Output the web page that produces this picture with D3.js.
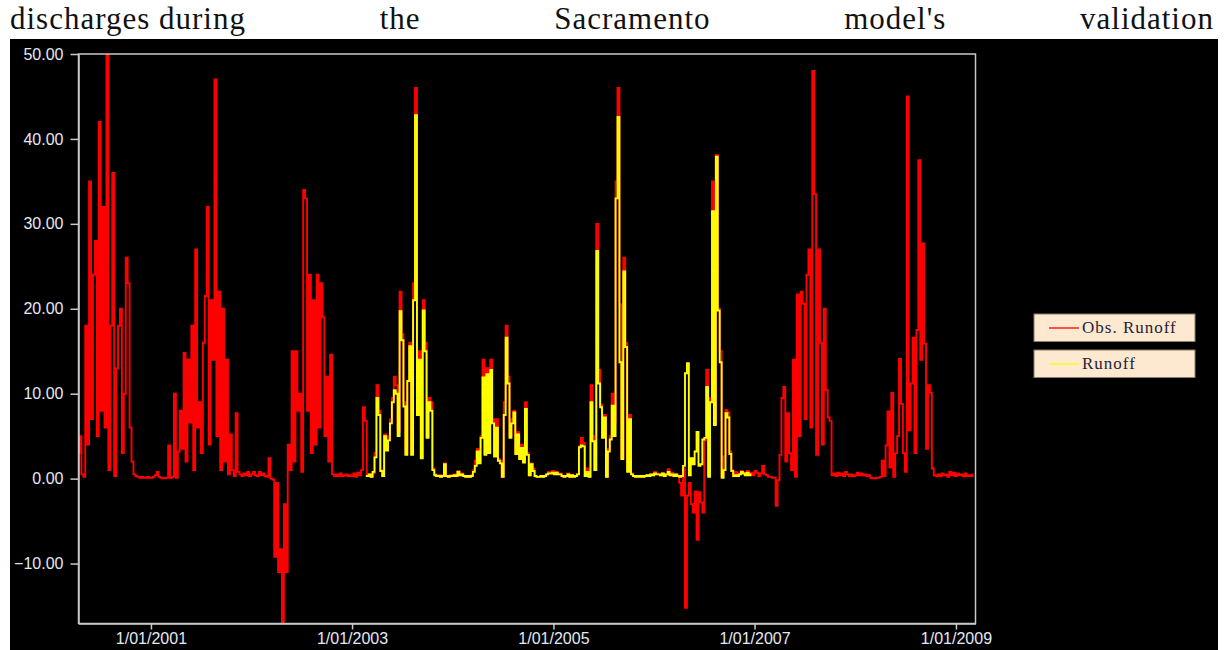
<!DOCTYPE html>
<html><head><meta charset="utf-8">
<script src="https://cdn.jsdelivr.net/npm/d3@7"></script>
<style>html,body{margin:0;padding:0;background:#fff;overflow:hidden}</style>
</head><body>
<svg id="c" width="1226" height="650"></svg>
<script>
const titleWords = ["discharges during", "the", "Sacramento", "model's", "validation"];
const seriesNames = ["Obs. Runoff", "Runoff"];
const yTicks = [-10, 0, 10, 20, 30, 40, 50];
const xTickDates = ["2001-01-01", "2003-01-01", "2005-01-01", "2007-01-01", "2009-01-01"];
const xDomain = ["2000-04-13", "2009-03-13"];
const yDomain = [-17.06, 50];
const obsStart = "2000-04-13";
const runoffStart = "2003-02-20";
const stepDays = 7;

const obsRunoff = [
 3.0,5.0,0.5,0.2,18,4,35,7,24,28, 5,42,8,32,6,50,1,18,36,0.3, 13,18,20,3,10,26,23,6,2,0.5,
 0.3,0.2,0.1,0.2,0.1,0.1,0.2,0.1,0.1,0.2, 0.4,0.8,0.2,0.1,0.05,0.05,0.1,3.9,0.1,0.2,
 10,0.1,3.2,8,3.5,14.8,2,14,6.6,18, 1,27,6,9,3,16,21.5,32,4,21, 14,47,5,22,1,20,2,14,
 0.5,5.2,1.0,0.3,7.7,0.8,0.5,0.3,0.6,0.4, 0.8,0.3,0.5,0.8,0.4,0.3,0.8,0.4,0.6,0.3,
 0.2,2.4,0.0,-0.1,-9.2,-0.5,-11,-8.3,-17,-3, -11,4,1,15,2,15,8,10,0.8,34,
 33,8,24,3,21,4,24,6,23,19, 5,12,2,14.6,0.5,0.3,0.5,0.3,0.6,0.3,
 0.4,0.5,0.3,0.4,0.3,0.6,0.2,0.7,0.4,1.0, 8.4,6.8,0.3,0.5,0.2,0.6,3.0,11,
 8,1.0,0.3,5.2,3.5,5,7,9.5,12,11, 5.5,22,17,9,3,11.5,16,3,23,46,
 8.5,15,2.5,21,16,5,9.5,9,1.2,0.5, 0.3,0.4,0.2,0.4,1.8,0.3,0.2,0.4,0.3,0.5,
 0.3,0.9,0.4,0.6,0.3,0.2,0.3,0.2,0.4,1.0, 2.1,3.5,2,5,14,3,13,3.2,14,7,
 2.8,7,2.3,2.1,0.2,9,18,12,5,7, 8,3,5.5,2.4,4,2,9,3,
 0.4,1.8,1.2,0.3,0.2,0.2,0.3,0.2,0.3,0.5, 0.8,0.7,0.9,0.6,0.8,0.5,0.6,0.3,0.2,0.3,
 0.6,0.2,0.4,0.2,0.3,0.5,3.8,4.8,4.2,0.3, 1.2,0.2,11,5,1.0,30,12.8,8.7,5,7.5,
 0.2,3.5,5,10,6.6,35,46,20.5,2.4,26, 16,1,7.5,0.6,0.3,0.2,0.3,0.2,0.3,0.2,
 0.3,0.4,0.3,0.5,0.4,0.8,0.6,0.5,0.4,0.6, 0.3,0.5,1.1,0.4,0.7,0.3,0.5,
 0.3,-0.5,-2,1.2,-15.2,-2,-0.5,-3,-4,-1.5, -7.2,-1.6,-2.8,-4,4.5,12.8,0.5,9.5,35,6.5,
 38.1,20,15,0.2,2.6,8.1,7.8,3.2,1,0.4, 0.8,0.3,0.6,0.9,0.7,0.5,0.9,0.5,0.7,0.4,
 0.9,0.7,0.3,0.6,1.5,0.5,0.4,0.2,0.2,0.1, 0.1,-3.2,-0.2,2.8,9.5,10.8,2,7.7,3,1,
 14,0.2,21.7,5,22,20.6,7,24,27,6, 48,33.5,2.8,27,16,4,20,10.4,
 7.2,6.8,0.4,0.6,0.3,0.7,0.4,0.6,0.3,0.8, 0.5,0.3,0.5,0.3,0.4,0.7,0.4,0.6,0.4,0.5,
 0.3,0.4,0.1,0.05,0.05,0.1,0.1,0.2,2.1,0.3, 3.9,7.9,1.3,10.1,0.2,3,5,14.1,8.8,3,
 0.8,45,5.7,11.2,16.6,3,17.5,37.5,14,27.7, 15.9,3.5,11,10.1,1.2,0.4,0.3,0.5,0.3,0.6,
 0.4,0.5,0.2,0.8,0.4,0.7,0.3,0.6,0.4,0.5, 0.3,0.6,0.3,0.4,0.3,0.5
];

const runoff = [
 0.3,0.3,0.5,0.2,0.8,2.5,9.5,
 7.5,0.9,0.3,5,3.3,4.5,6.5,9,10.4,10, 5,19.7,16.3,8.5,2.8,11.5,15.6,2.8,21,42.8,
 7.5,14,2.4,19.8,15,4.8,9,8,1,0.4, 0.3,0.3,0.2,0.3,1.7,0.3,0.2,0.3,0.3,0.4,
 0.3,0.8,0.4,0.5,0.3,0.2,0.3,0.2,0.3,0.8, 1.5,3.2,1.8,4.8,11.9,2.8,12.3,3,12.8,6.5,
 2.6,6,2.1,1.8,0.2,7.5,16.6,11.2,4.8,6.5, 7.8,2.9,5.2,2.3,3.6,1.9,8.2,2.8,
 0.4,1.7,0.9,0.3,0.2,0.2,0.3,0.2,0.3,0.5, 0.6,0.6,0.7,0.5,0.7,0.5,0.5,0.3,0.2,0.3,
 0.5,0.2,0.4,0.2,0.3,0.5,3.7,3.9,3.8,0.3, 0.8,0.2,9,4.4,1.0,26.8,11.2,8.4,4.8,7.2,
 0.2,3.2,4.6,8.6,5,33,42.6,13.7,2.3,24.4, 15.5,0.8,7.0,0.5,0.3,0.2,0.3,0.2,0.3,0.2,
 0.3,0.4,0.3,0.5,0.4,0.6,0.5,0.5,0.4,0.6, 0.3,0.5,0.8,0.4,0.5,0.3,0.5,
 0.3,0.2,0.3,1.5,12.4,13.6,0.4,2.4,1.7,3.2, 5.5,1.5,1.7,4.6,4.8,10.8,0.2,9,31.5,6.3,
 37.9,19.8,13.7,0.1,1,7.7,7.2,2.9,0.9,0.3, 0.4,0.3,0.5,0.8,0.6,0.4,0.7,0.4,0.5
];

const seriesColors = ["#ff0000", "#ffff00"];

const parse = d3.utcParse("%Y-%m-%d");
const svg = d3.select("#c");

// black chart background
svg.append("rect").attr("x", 10).attr("y", 39).attr("width", 1208).attr("height", 611).attr("fill", "#000");

// justified title line
const tg = svg.append("g")
  .attr("font-family", "'Liberation Serif','Times New Roman',serif")
  .attr("font-size", 31).attr("letter-spacing", 1).attr("fill", "#111");
const tNodes = titleWords.map(w => tg.append("text").attr("y", 29).text(w));
const tW = tNodes.map(t => t.node().getComputedTextLength());
const tLeft = 10, tRight = 1214;
const gap = (tRight - tLeft - d3.sum(tW)) / (titleWords.length - 1);
let cx = tLeft;
tNodes.forEach((t, i) => { t.attr("x", cx); cx += tW[i] + gap; });

const m = {l: 78.5, r: 975.5, t: 54, b: 623.5};
const x = d3.scaleUtc().domain(xDomain.map(parse)).range([m.l, m.r]);
const y = d3.scaleLinear().domain(yDomain).range([m.b, m.t]);

const axisColor = "#c8c8c8", labelColor = "#e4e9f2";
const fontSans = "'Liberation Sans', Arial, sans-serif";

// plot clip
svg.append("defs").append("clipPath").attr("id", "clip")
  .append("rect").attr("x", m.l).attr("y", m.t).attr("width", m.r - m.l).attr("height", m.b - m.t);

// series
const obsData = obsRunoff.map((v, i) => [d3.utcDay.offset(parse(obsStart), i * stepDays), v]);
const runData = runoff.map((v, i) => [d3.utcDay.offset(parse(runoffStart), i * stepDays), v]);
const line = d3.line().x(d => x(d[0])).y(d => y(d[1])).curve(d3.curveStep);
const pg = svg.append("g").attr("clip-path", "url(#clip)");
[obsData, runData].forEach((data, k) => {
  pg.append("path").datum(data).attr("d", line)
    .attr("fill", "none").attr("stroke", seriesColors[k]).attr("stroke-width", 1.9)
    .attr("stroke-linejoin", "miter");
});

// frame
svg.append("rect").attr("x", m.l).attr("y", m.t).attr("width", m.r - m.l).attr("height", m.b - m.t)
  .attr("fill", "none").attr("stroke", axisColor).attr("stroke-width", 1.5);

// y axis
const gy = svg.append("g").attr("transform", `translate(${m.l},0)`)
  .call(d3.axisLeft(y).tickValues(yTicks).tickFormat(d3.format(".2f")).tickSize(8).tickSizeOuter(0).tickPadding(7));
gy.select(".domain").attr("stroke", axisColor).attr("stroke-width", 1.5);
gy.selectAll(".tick line").attr("stroke", axisColor).attr("stroke-width", 1.5);
gy.selectAll(".tick text").attr("fill", labelColor).attr("font-family", fontSans).attr("font-size", 16);

// x axis
const gx = svg.append("g").attr("transform", `translate(0,${m.b})`)
  .call(d3.axisBottom(x).tickValues(xTickDates.map(parse)).tickFormat(d3.utcFormat("%-d/%m/%Y")).tickSize(6).tickSizeOuter(0).tickPadding(3));
gx.select(".domain").attr("stroke", axisColor).attr("stroke-width", 1.5);
gx.selectAll(".tick line").attr("stroke", axisColor).attr("stroke-width", 1.5);
gx.selectAll(".tick text").attr("fill", labelColor).attr("font-family", fontSans).attr("font-size", 16);

// legend
const lg = svg.append("g");
const legY = [314, 350];
seriesNames.forEach((name, i) => {
  const g = lg.append("g").attr("transform", `translate(1034,${legY[i]})`);
  g.append("rect").attr("width", 161).attr("height", 27.5)
    .attr("fill", "#fde9cf").attr("stroke", "#8c7b6a").attr("stroke-width", 1);
  g.append("line").attr("x1", 15).attr("x2", 45).attr("y1", 14).attr("y2", 14)
    .attr("stroke", seriesColors[i]).attr("stroke-width", 1.3);
  g.append("text").attr("x", 48).attr("y", 19).text(name)
    .attr("font-family", "'Liberation Serif','Times New Roman',serif")
    .attr("font-size", 17).attr("letter-spacing", 1).attr("fill", "#23233a");
});
</script>
</body></html>
